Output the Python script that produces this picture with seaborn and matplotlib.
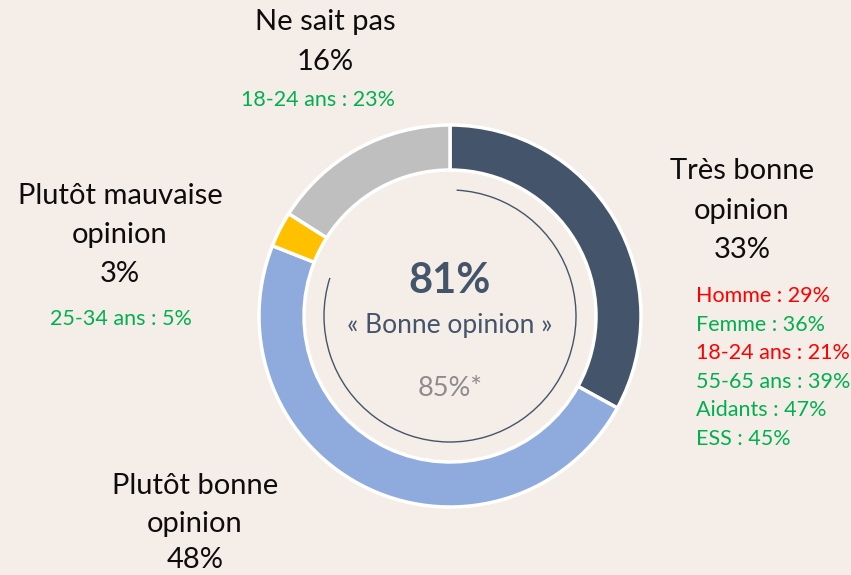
import matplotlib
matplotlib.use('Agg')
import matplotlib.pyplot as plt
from matplotlib.patches import Arc
import seaborn as sns

# données
categories = ['Très bonne opinion', 'Plutôt bonne opinion', 'Plutôt mauvaise opinion', 'Ne sait pas']
values = [33, 48, 3, 16]
colors = ['#44546A', '#8FAADC', '#FFC000', '#BFBFBF']
good_total = 81
good_previous = 85
details_tres_bonne = ['Homme : 29%', 'Femme : 36%', '18-24 ans : 21%', '55-65 ans : 39%', 'Aidants : 47%', 'ESS : 45%']
details_colors = ['#FF0000', '#00B050', '#FF0000', '#00B050', '#00B050', '#00B050']
detail_nsp = '18-24 ans : 23%'
detail_mauvaise = '25-34 ans : 5%'

BG = '#F5EDE7'
W, H = 851, 575

sns.set_theme(style='white')
plt.rcParams['font.family'] = ['Lato', 'DejaVu Sans']

fig = plt.figure(figsize=(W / 100, H / 100), dpi=100, facecolor=BG)
ax = fig.add_axes([0, 0, 1, 1])
ax.set_facecolor(BG)


def py(y):
    # coordonnée pixel (depuis le haut) -> coordonnée données
    return H - y


cx, cy = 450, py(316)
ax.pie(values, colors=colors, startangle=90, counterclock=False,
       radius=191, center=(cx, cy), frame=True,
       wedgeprops=dict(width=45, edgecolor='white', linewidth=2.5))
ax.set_xlim(0, W)
ax.set_ylim(0, H)
ax.set_aspect('equal')
ax.axis('off')

# arc intérieur (bonne opinion)
start = 3
end = good_total / 100 * 360 - 4
ax.add_patch(Arc((cx, cy), 252, 252, theta1=90 - end, theta2=90 - start,
                 color='#44546A', lw=1))

# texte central
ax.text(cx, py(281), f'{good_total}%', ha='center', va='center',
        fontsize=30, fontweight='bold', color='#44546A')
ax.text(cx, py(325), '« Bonne opinion »', ha='center', va='center',
        fontsize=19, color='#44546A')
ax.text(cx, py(388), f'{good_previous}%*', ha='center', va='center',
        fontsize=19.5, color='#8C8C8C')


def label(x, ys, lines):
    for y, line in zip(ys, lines):
        ax.text(x, py(y), line, ha='center', va='center', fontsize=21, color='#0D0D0D')


label(742, [171, 211, 250], ['Très bonne', 'opinion', f'{values[0]}%'])
label(195, [486, 524, 560], ['Plutôt bonne', 'opinion', f'{values[1]}%'])
label(120, [196, 235, 274], ['Plutôt mauvaise', 'opinion', f'{values[2]}%'])
label(325, [22, 62], ['Ne sait pas', f'{values[3]}%'])

small = dict(fontsize=15.5, va='center')
ax.text(318, py(100), detail_nsp, ha='center', color='#00B050', **small)
ax.text(121, py(319), detail_mauvaise, ha='center', color='#00B050', **small)
for i, (txt, col) in enumerate(zip(details_tres_bonne, details_colors)):
    ax.text(696, py(296 + i * 28.6), txt, ha='left', color=col, **small)

fig.savefig('out.png', dpi=100, facecolor=BG)
